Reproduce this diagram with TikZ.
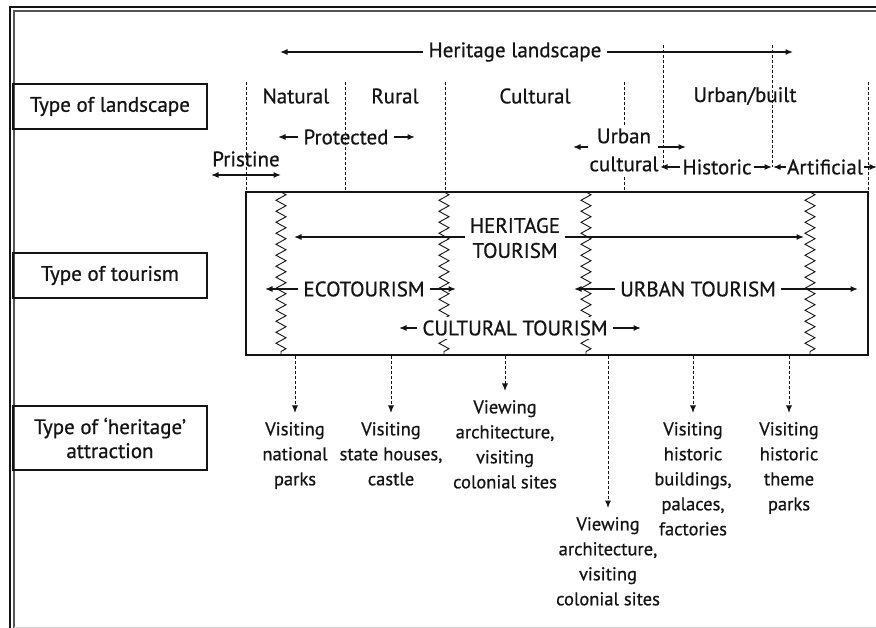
\documentclass[tikz,border=0pt]{standalone}
\usepackage{fontspec}
\setmainfont{PT Sans}[FakeBold=0.7]
\usetikzlibrary{positioning, arrows.meta, decorations.pathmorphing}
\definecolor{ink}{RGB}{20, 20, 20}
\definecolor{framegray}{RGB}{85, 85, 85}

\begin{document}
\begin{tikzpicture}[x=1pt, y=-1pt, ink,
    >={Latex[length=7.5pt, width=6pt]},
    every node/.style={font=\fontsize{21}{25}\selectfont, text=ink},
    typebox/.style={draw, line width=1.3pt, minimum width=194pt, align=center},
    zone/.style={line width=1pt, dash pattern=on 3pt off 2pt},
    wave/.style={decorate, decoration={zigzag, segment length=11pt, amplitude=5pt}, line width=0.9pt},
    pointer/.style={line width=1.3pt, ->},
    tag/.style={inner xsep=5pt, inner ysep=1pt},
    visit/.style={align=center, anchor=north, inner ysep=12pt, font=\fontsize{18.5}{25}\selectfont}
  ]
  \useasboundingbox (0,0) rectangle (876,628);

  % frame of the page
  \draw[line width=2.2pt] (10,628) -- (10,7) -- (876,7);
  \draw[line width=1.3pt, framegray] (14,628) -- (14,11) -- (876,11);
  \draw[gray!35, line width=1pt] (14,627.5) -- (876,627.5);

  % row headings
  \node[typebox, minimum height=45pt] (tland) at (110,106.5) {Type of landscape};
  \node[typebox, minimum height=45pt] (ttour) at (110,275.5) {Type of tourism};
  \node[typebox, minimum height=64pt, font=\fontsize{21}{24}\selectfont] (tattr) at (110,438) {Type of ‘heritage’\\attraction};

  % landscape zones
  \node[draw, line width=1.3pt, minimum width=622pt, minimum height=163pt] (tbox) at (557,273.5) {};
  \foreach \x in {246,345,445,624,868}
    \draw[zone] (\x,82) -- (\x,192);
  \foreach \x in {663,772}
    \draw[zone] (\x,45) -- (\x,167);

  \node[tag] (hland) at (515,52) {Heritage landscape};
  \coordinate (hlL) at (280,52);
  \coordinate (hlR) at (793,52);
  \draw[pointer] (hland) -- (hlL);
  \draw[pointer] (hland) -- (hlR);

  \node (natural) at (296,96) {Natural};
  \node (rural) at (395,96) {Rural};
  \node (cultural) at (535,96) {Cultural};
  \node (urbbuilt) at (745,96) {Urban/built};

  \node[tag] (prot) at (346,137) {Protected};
  \coordinate (protL) at (278,137);
  \coordinate (protR) at (415,137);
  \draw[pointer] (prot) -- (protL);
  \draw[pointer] (prot) -- (protR);

  \node (prist) at (246,159) {Pristine};
  \coordinate (pristL) at (211,175);
  \coordinate (pristR) at (281,175);
  \draw[pointer, <->] (pristL) -- (pristR);

  \node[fill=white, align=center, inner xsep=1pt, font=\fontsize{21}{28}\selectfont] (urbc) at (624,150) {Urban\\cultural};
  \coordinate (urbcL) at (573,147);
  \coordinate (urbcA) at (658,147);
  \coordinate (urbcR) at (686,147);
  \draw[pointer] (urbc.west |- urbcL) -- (urbcL);
  \draw[pointer] (urbcA) -- (urbcR);

  \node[tag, inner xsep=2pt] (hist) at (717,167) {Historic};
  \coordinate (histL) at (660,167);
  \coordinate (histR) at (772,167);
  \draw[pointer] (hist) -- (histL);
  \draw[pointer] (hist) -- (histR);

  \node[tag, inner xsep=1pt] (artf) at (825,167) {Artificial};
  \coordinate (artfL) at (773,167);
  \coordinate (artfR) at (877,167);
  \draw[pointer] (artf) -- (artfL);
  \draw[pointer] (artf) -- (artfR);

  % tourism types
  \foreach \x in {281,444,586,810}
    \draw[wave] (\x,192) -- (\x,355);

  \node[tag, align=center] (htour) at (515,238) {HERITAGE\\TOURISM};
  \coordinate (htL) at (294,237);
  \coordinate (htR) at (804,237);
  \draw[pointer] (htour.west |- htL) -- (htL);
  \draw[pointer] (htour.east |- htR) -- (htR);

  \node[tag] (eco) at (364,289) {ECOTOURISM};
  \coordinate (ecoL) at (265,289);
  \coordinate (ecoR) at (456,289);
  \draw[pointer] (eco) -- (ecoL);
  \draw[pointer] (eco) -- (ecoR);

  \node[tag] (urbt) at (698,289) {URBAN TOURISM};
  \coordinate (urbtL) at (574,289);
  \coordinate (urbtR) at (858,289);
  \draw[pointer] (urbt) -- (urbtL);
  \draw[pointer] (urbt) -- (urbtR);

  \node[tag, fill=white, inner ysep=3pt] (cult) at (515,328) {CULTURAL TOURISM};
  \coordinate (cultL) at (399,328);
  \coordinate (cultR) at (641,328);
  \draw[pointer] (cult) -- (cultL);
  \draw[pointer] (cult) -- (cultR);

  % attractions
  \node[visit] (vpark) at (295,410) {Visiting\\national\\parks};
  \node[visit] (vstate) at (391,410) {Visiting\\state houses,\\castle};
  \node[visit] (vcolon) at (505,388) {Viewing\\architecture,\\visiting\\colonial sites};
  \node[visit] (vcolonb) at (608,505) {Viewing\\architecture,\\visiting\\colonial sites};
  \node[visit] (vhist) at (693,410) {Visiting\\historic\\buildings,\\palaces,\\factories};
  \node[visit] (vtheme) at (789,410) {Visiting\\historic\\theme\\parks};
  \foreach \v in {vpark,vstate,vcolon,vcolonb,vhist,vtheme}
    \draw[zone, ->, shorten >=-3pt] (\v.north |- tbox.south) -- (\v.north);
\end{tikzpicture}
\end{document}
